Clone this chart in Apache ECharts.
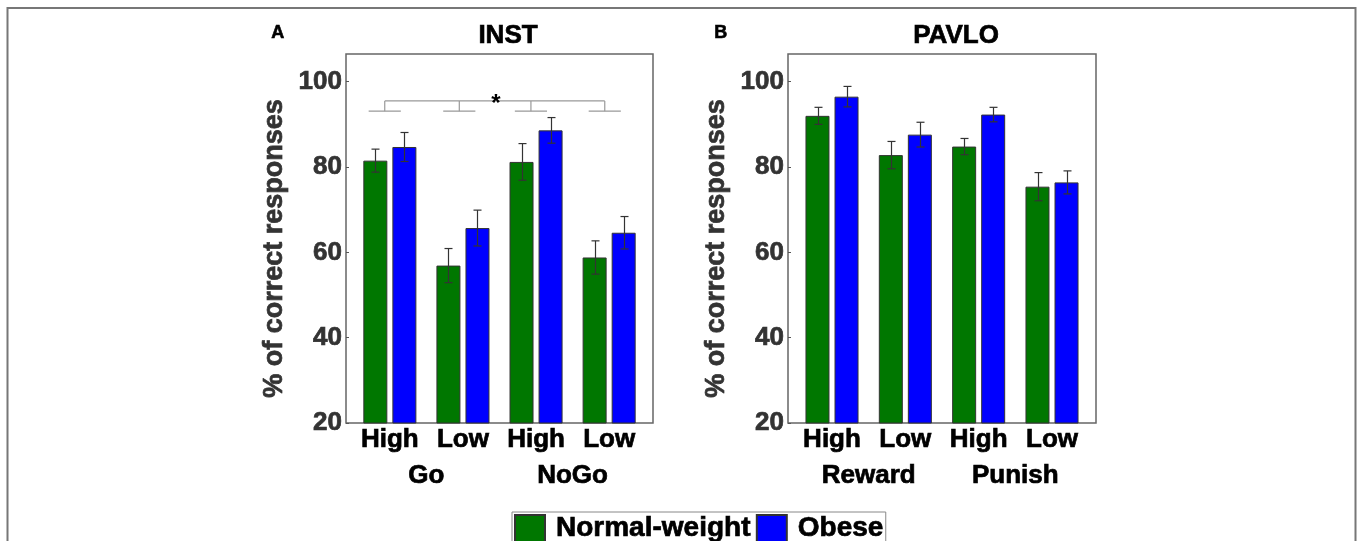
<!DOCTYPE html>
<html>
<head>
<meta charset="utf-8">
<script src="https://cdn.jsdelivr.net/npm/echarts@6/dist/echarts.min.js"></script>
<style>
  html, body { margin: 0; padding: 0; background: #fff; }
  #chart { width: 1357px; height: 541px; }
</style>
</head>
<body>
<div id="chart"></div>
<script>
// group positions on the x scale (1..4), labels under each pair of bars
var positions = [1, 2, 3, 4];
var levelLabels = ['High', 'Low', 'High', 'Low'];
var instGroups = ['Go', 'NoGo'];
var pavloGroups = ['Reward', 'Punish'];
var groupCenters = [1.5, 3.5];

// INST panel
var instNormal = [81.5, 56.9, 81.2, 58.8];
var instNormalErr = [2.7, 4.0, 4.3, 3.9];
var instObese = [84.7, 65.7, 88.6, 64.6];
var instObeseErr = [3.4, 4.2, 3.0, 3.8];

// PAVLO panel
var pavloNormal = [92.0, 82.8, 84.8, 75.4];
var pavloNormalErr = [2.0, 3.2, 1.9, 3.3];
var pavloObese = [96.5, 87.6, 92.3, 76.4];
var pavloObeseErr = [2.4, 2.9, 1.7, 2.7];

// significance bracket (INST)
var bracketX = [0.93, 1.95, 2.93, 3.94];
var bracketTop = 95.5;
var bracketFoot = 93.1;
var bracketFootHalf = 0.22;
var starPos = [2.45, 96.2];

var GREEN = '#007700';
var BLUE = '#0000ff';
var BAR_W = 24;
var BAR_SHIFT = 14.5;
var FONT = 'Liberation Sans, Arial, sans-serif';

var chart = echarts.init(document.getElementById('chart'));

function pairs(vals) {
    var out = [];
    for (var i = 0; i < vals.length; ++i) {
        out.push([positions[i], vals[i]]);
    }
    return out;
}

function errData(vals, errs) {
    var out = [];
    for (var i = 0; i < vals.length; ++i) {
        out.push([positions[i], vals[i] - errs[i], vals[i] + errs[i]]);
    }
    return out;
}

// bold text, thickened a little with a stroke of its own colour
function heavy(size, color) {
    return {
        fontSize: size, fontWeight: 'bold', color: color, fontFamily: FONT,
        textBorderColor: color, textBorderWidth: 0.7
    };
}

function errorSeries(idx, vals, errs, shift) {
    return {
        type: 'custom',
        xAxisIndex: idx * 2,
        yAxisIndex: idx,
        silent: true,
        z: 5,
        data: errData(vals, errs),
        renderItem: function (params, api) {
            var lo = api.coord([api.value(0), api.value(1)]);
            var hi = api.coord([api.value(0), api.value(2)]);
            var x = Math.round(lo[0] + shift) + 0.5;
            var st = { stroke: '#333', lineWidth: 1.2 };
            return {
                type: 'group',
                children: [
                    { type: 'line', shape: { x1: x, y1: lo[1], x2: x, y2: hi[1] }, style: st },
                    { type: 'line', shape: { x1: x - 4, y1: lo[1], x2: x + 4, y2: lo[1] }, style: st },
                    { type: 'line', shape: { x1: x - 4, y1: hi[1], x2: x + 4, y2: hi[1] }, style: st }
                ]
            };
        }
    };
}

function barSeries(idx, name, color, vals) {
    return {
        type: 'bar',
        name: name,
        xAxisIndex: idx * 2,
        yAxisIndex: idx,
        barWidth: BAR_W,
        barGap: '21%',
        itemStyle: { color: color, borderColor: '#333', borderWidth: 1 },
        emphasis: { disabled: true },
        data: pairs(vals)
    };
}

function xAxes(idx, groups) {
    var lbl1 = heavy(26, '#000');
    lbl1.customValues = positions;
    lbl1.margin = 4;
    lbl1.formatter = function (v) { return levelLabels[Math.round(v) - 1]; };
    var lbl2 = heavy(26, '#000');
    lbl2.customValues = groupCenters;
    lbl2.margin = 4;
    lbl2.formatter = function (v) { return groups[v < 2.5 ? 0 : 1]; };
    return [
        {
            type: 'value', gridIndex: idx, min: 0.4, max: 4.6,
            axisLine: { show: false }, axisTick: { show: false }, splitLine: { show: false },
            axisLabel: lbl1
        },
        {
            type: 'value', gridIndex: idx, min: 0.4, max: 4.6, position: 'bottom', offset: 36,
            axisLine: { show: false }, axisTick: { show: false }, splitLine: { show: false },
            axisLabel: lbl2
        }
    ];
}

function yAxis(idx) {
    var nameStyle = heavy(27, '#333');
    nameStyle.padding = [0, 20, 0, 0];
    var lbl = heavy(26, '#333');
    lbl.margin = 4;
    lbl.showMaxLabel = false;
    return {
        type: 'value', gridIndex: idx, min: 20, max: 106.5, interval: 20,
        name: '% of correct responses', nameLocation: 'middle', nameGap: 58,
        nameTextStyle: nameStyle,
        axisLine: { show: false },
        axisTick: { show: true, inside: true, length: 3, lineStyle: { color: '#555' } },
        splitLine: { show: false },
        axisLabel: lbl
    };
}

var legendText = heavy(28, '#000');
legendText.padding = [0, 0, 0, 6];

var option = {
    animation: false,
    backgroundColor: '#fff',
    grid: [
        { left: 346, top: 54, width: 307, height: 369, show: true, borderColor: '#666', borderWidth: 1.5 },
        { left: 788, top: 54, width: 308, height: 369, show: true, borderColor: '#666', borderWidth: 1.5 }
    ],
    xAxis: xAxes(0, instGroups).concat(xAxes(1, pavloGroups)),
    yAxis: [yAxis(0), yAxis(1)],
    legend: {
        left: 512, top: 512,
        padding: [2, 2, 6, 2],
        itemGap: 5,
        itemWidth: 30, itemHeight: 27,
        icon: 'rect',
        borderColor: '#888', borderWidth: 1,
        selectedMode: false,
        data: ['Normal-weight', 'Obese'],
        textStyle: legendText
    },
    graphic: [
        { type: 'rect', shape: { x: 7.5, y: 8, width: 1348, height: 600 }, style: { fill: 'none', stroke: '#777', lineWidth: 2 } },
        { type: 'text', left: 271, top: 24, style: { text: 'A', fontSize: 18, fontWeight: 'bold', fill: '#000', stroke: '#000', lineWidth: 0.6, fontFamily: FONT } },
        { type: 'text', left: 714, top: 24, style: { text: 'B', fontSize: 18, fontWeight: 'bold', fill: '#000', stroke: '#000', lineWidth: 0.6, fontFamily: FONT } },
        { type: 'text', x: 508, y: 36, style: { text: 'INST', fontSize: 26, fontWeight: 'bold', fill: '#000', stroke: '#000', lineWidth: 0.7, fontFamily: FONT, align: 'center', verticalAlign: 'middle' } },
        { type: 'text', x: 956, y: 36, style: { text: 'PAVLO', fontSize: 26, fontWeight: 'bold', fill: '#000', stroke: '#000', lineWidth: 0.7, fontFamily: FONT, align: 'center', verticalAlign: 'middle' } }
    ],
    series: [
        barSeries(0, 'Normal-weight', GREEN, instNormal),
        barSeries(0, 'Obese', BLUE, instObese),
        errorSeries(0, instNormal, instNormalErr, -BAR_SHIFT),
        errorSeries(0, instObese, instObeseErr, BAR_SHIFT),
        barSeries(1, 'Normal-weight', GREEN, pavloNormal),
        barSeries(1, 'Obese', BLUE, pavloObese),
        errorSeries(1, pavloNormal, pavloNormalErr, -BAR_SHIFT),
        errorSeries(1, pavloObese, pavloObeseErr, BAR_SHIFT),
        {
            type: 'custom',
            xAxisIndex: 0,
            yAxisIndex: 0,
            silent: true,
            data: [[0]],
            renderItem: function (params, api) {
                var st = { stroke: '#999', lineWidth: 1.2 };
                var kids = [];
                var a = api.coord([bracketX[0], bracketTop]);
                var b = api.coord([bracketX[bracketX.length - 1], bracketTop]);
                kids.push({ type: 'line', shape: { x1: a[0], y1: a[1], x2: b[0], y2: b[1] }, style: st });
                for (var i = 0; i < bracketX.length; ++i) {
                    var t = api.coord([bracketX[i], bracketTop]);
                    var f = api.coord([bracketX[i], bracketFoot]);
                    var fl = api.coord([bracketX[i] - bracketFootHalf, bracketFoot]);
                    var fr = api.coord([bracketX[i] + bracketFootHalf, bracketFoot]);
                    kids.push({ type: 'line', shape: { x1: t[0], y1: t[1], x2: f[0], y2: f[1] }, style: st });
                    kids.push({ type: 'line', shape: { x1: fl[0], y1: fl[1], x2: fr[0], y2: fr[1] }, style: st });
                }
                var s = api.coord(starPos);
                kids.push({ type: 'text', style: { x: s[0], y: s[1] + 6, text: '*', fontSize: 24, fontWeight: 'bold', fill: '#000', fontFamily: FONT, align: 'center', verticalAlign: 'middle' } });
                return { type: 'group', children: kids };
            }
        }
    ]
};

chart.setOption(option);
</script>
</body>
</html>
